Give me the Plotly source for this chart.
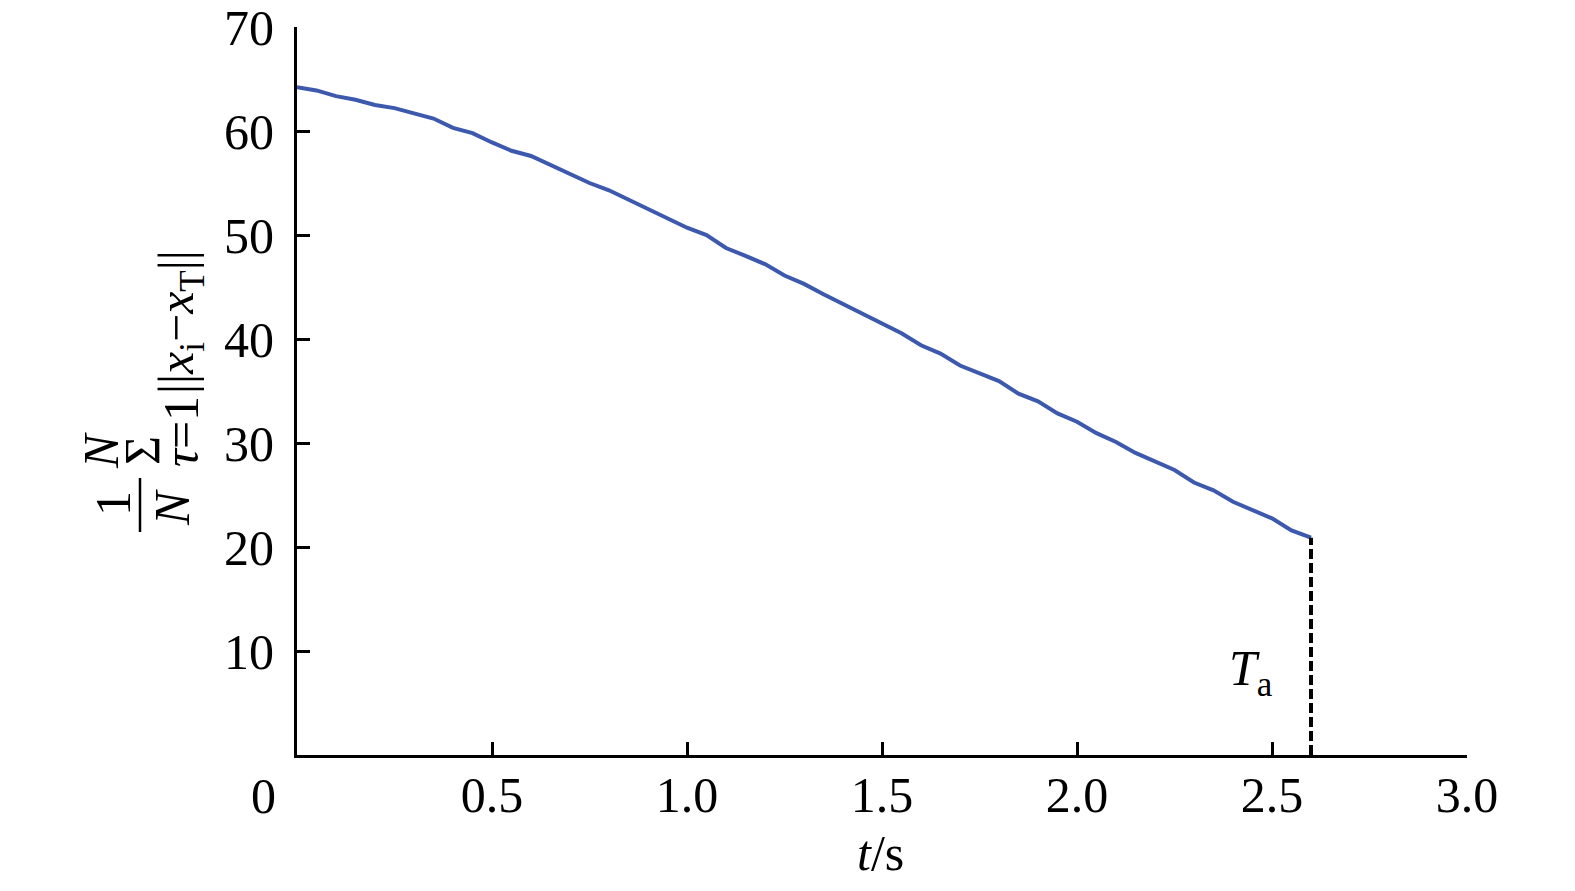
import plotly.graph_objects as go

# Data
t_vals = [0.00, 0.05, 0.10, 0.15, 0.20, 0.25, 0.30, 0.35, 0.40, 0.45,
          0.50, 0.55, 0.60, 0.65, 0.70, 0.75, 0.80, 0.85, 0.90, 0.95,
          1.00, 1.05, 1.10, 1.15, 1.20, 1.25, 1.30, 1.35, 1.40, 1.45,
          1.50, 1.55, 1.60, 1.65, 1.70, 1.75, 1.80, 1.85, 1.90, 1.95,
          2.00, 2.05, 2.10, 2.15, 2.20, 2.25, 2.30, 2.35, 2.40, 2.45,
          2.50, 2.55, 2.60]
dist_vals = [64.2, 63.9, 63.35, 63.0, 62.5, 62.2, 61.7, 61.2, 60.3, 59.8,
             58.9, 58.1, 57.6, 56.7, 55.9, 55.0, 54.3, 53.4, 52.4, 51.6,
             50.7, 50.0, 48.75, 48.0, 47.2, 46.1, 45.3, 44.3, 43.35, 42.45,
             41.4, 40.55, 39.4, 38.6, 37.45, 36.7, 35.95, 34.75, 34.0, 32.85,
             32.05, 30.95, 30.1, 29.05, 28.25, 27.4, 26.2, 25.45, 24.35, 23.5,
             22.75, 21.6, 20.9]
T_a = 2.6
x_ticks = [0.5, 1.0, 1.5, 2.0, 2.5, 3.0]
x_tick_text = ["0.5", "1.0", "1.5", "2.0", "2.5", "3.0"]
y_ticks = [10, 20, 30, 40, 50, 60, 70]
y_tick_text = ["10", "20", "30", "40", "50", "60", "70"]

FONT = "Liberation Serif"
FS = 50
BODY = 8  # default page body margin
W, H = 1575 - BODY, 891 - BODY
L, R, T, B = 297 - BODY, 108, 27 - BODY, 136
PW, PH = W - L - R, H - T - B
X0, YB = L + BODY, T + BODY + PH  # plot area in page pixels

def px(xp):
    return (xp - X0) / PW

def py(yp):
    return (YB - yp) / PH

fig = go.Figure()
fig.add_trace(go.Scatter(x=t_vals, y=dist_vals, mode="lines",
                         line=dict(color="#3d59ad", width=4),
                         showlegend=False, hoverinfo="skip"))
fig.add_trace(go.Scatter(x=[T_a, T_a], y=[0, dist_vals[-1]], mode="lines",
                         line=dict(color="black", width=4, dash="10px,4px"),
                         showlegend=False, hoverinfo="skip"))

axis_common = dict(showline=True, linecolor="black", linewidth=3,
                   showgrid=False, zeroline=False, ticks="inside",
                   ticklen=13, tickwidth=3, tickcolor="black",
                   automargin=False, ticklabeloverflow="allow",
                   tickfont=dict(family=FONT, size=FS, color="black"))
fig.update_xaxes(range=[0, 3.0], tickvals=x_ticks, ticktext=x_tick_text,
                 ticklabelstandoff=-6, **axis_common)
fig.update_yaxes(range=[0, 70.001], tickvals=y_ticks, ticktext=y_tick_text,
                 ticklabelstandoff=10, **axis_common)

def txt(text, xc, yc, angle=0, size=FS):
    return dict(x=px(xc), y=py(yc), xref="paper", yref="paper",
                text=text, showarrow=False, textangle=angle,
                xanchor="center", yanchor="middle",
                font=dict(family=FONT, size=size, color="black"))

ann = [
    txt("0", 263, 796),                       # origin label
    txt("<i>t</i>/s", 880, 853),              # x-axis title
    txt("<i>T</i><sub>a</sub>", 1251, 672),   # T_a label
    # y-axis label pieces (rotated)
    txt("1", 113, 504, -90),
    txt("<i>N</i>", 172, 508, -90),
    txt("Σ", 142, 451, -90),
    txt("<i>N</i>", 101, 451, -90),
    txt("<i>τ</i>=1", 181, 432, -90),
    txt("||<i>x</i><sub>i</sub>−<i>x</i><sub>T</sub>||", 180, 322, -90),
]

fig.update_layout(
    width=W, height=H,
    margin=dict(l=L, r=R, t=T, b=B, pad=0, autoexpand=False),
    plot_bgcolor="white", paper_bgcolor="white",
    annotations=ann,
    shapes=[dict(type="line", xref="paper", yref="paper",
                 x0=px(140), x1=px(140), y0=py(478), y1=py(532),
                 line=dict(color="black", width=2.5))],
)
fig.write_html("out.html")
